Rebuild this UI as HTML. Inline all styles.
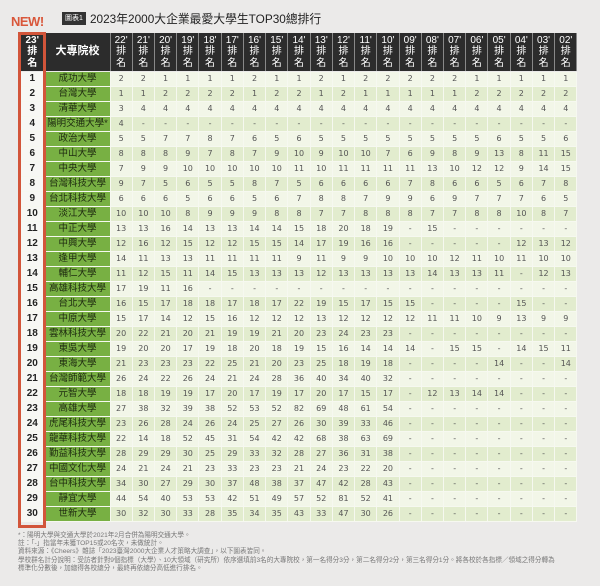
<!DOCTYPE html>
<html><head><meta charset="utf-8"><style>
body{margin:0;width:600px;height:586px;background:#ebeae9;font-family:"Liberation Sans","Noto Sans CJK TC",sans-serif;position:relative;overflow:hidden}
.new{position:absolute;left:11px;top:14px;font-size:13px;font-weight:bold;color:#d9573a;letter-spacing:-0.5px}
.icon{position:absolute;left:62px;top:12px;width:24px;height:13px;background:#333;color:#fff;font-size:7px;line-height:13px;text-align:center}
.title{position:absolute;left:90px;top:10px;font-size:11.8px;color:#222;white-space:nowrap}
table{position:absolute;left:20px;top:33px;width:557px;border-collapse:collapse;table-layout:fixed}
td{padding:0;height:14px;line-height:14px;text-align:center;font-size:8px;color:#555;border-right:1px solid #f6f8f0;border-bottom:1px solid #f6f8f0;font-family:"DejaVu Sans","Noto Sans CJK TC",sans-serif}
tr:nth-child(even) td{background:#f2f6e8}
tr:nth-child(odd) td{background:#e2ecce}
tr.h td{height:38px;background:#2c2c2c!important;color:#fff!important;font-size:10px;line-height:11.5px;border-right:1px solid #888;border-bottom:1px solid #ebeae9;font-family:"Liberation Sans","Noto Sans CJK TC",sans-serif}
tr.h td.s{font-size:11px;font-weight:bold}
td.r{background:#f7f7f4!important;color:#222;font-weight:bold;font-size:10px;font-family:"Liberation Sans",sans-serif}
td.s{background:#78b043!important;color:#1e2a10;font-size:9.5px;font-family:"Liberation Sans","Noto Sans CJK TC",sans-serif;white-space:nowrap;overflow:hidden}
.box{position:absolute;left:18px;top:32px;width:22px;height:490px;border:3px solid #d2553a}
.foot{position:absolute;left:18px;top:532px;font-size:6.6px;line-height:8.2px;color:#777;white-space:nowrap}
</style></head><body>
<div class="new">NEW!</div>
<div class="icon">圖表1</div>
<div class="title">2023年2000大企業最愛大學生TOP30總排行</div>
<table>
<colgroup><col style="width:25px"><col style="width:65px"><col span="21" style="width:22.24px"></colgroup>
<tr class="h"><td class="r">23'<br>排<br>名</td><td class="s">大專院校</td><td>22'<br>排<br>名</td><td>21'<br>排<br>名</td><td>20'<br>排<br>名</td><td>19'<br>排<br>名</td><td>18'<br>排<br>名</td><td>17'<br>排<br>名</td><td>16'<br>排<br>名</td><td>15'<br>排<br>名</td><td>14'<br>排<br>名</td><td>13'<br>排<br>名</td><td>12'<br>排<br>名</td><td>11'<br>排<br>名</td><td>10'<br>排<br>名</td><td>09'<br>排<br>名</td><td>08'<br>排<br>名</td><td>07'<br>排<br>名</td><td>06'<br>排<br>名</td><td>05'<br>排<br>名</td><td>04'<br>排<br>名</td><td>03'<br>排<br>名</td><td>02'<br>排<br>名</td></tr>
<tr><td class="r">1</td><td class="s">成功大學</td><td>2</td><td>2</td><td>1</td><td>1</td><td>1</td><td>1</td><td>2</td><td>1</td><td>1</td><td>2</td><td>1</td><td>2</td><td>2</td><td>2</td><td>2</td><td>2</td><td>1</td><td>1</td><td>1</td><td>1</td><td>1</td></tr>
<tr><td class="r">2</td><td class="s">台灣大學</td><td>1</td><td>1</td><td>2</td><td>2</td><td>2</td><td>2</td><td>1</td><td>2</td><td>2</td><td>1</td><td>2</td><td>1</td><td>1</td><td>1</td><td>1</td><td>1</td><td>2</td><td>2</td><td>2</td><td>2</td><td>2</td></tr>
<tr><td class="r">3</td><td class="s">清華大學</td><td>3</td><td>4</td><td>4</td><td>4</td><td>4</td><td>4</td><td>4</td><td>4</td><td>4</td><td>4</td><td>4</td><td>4</td><td>4</td><td>4</td><td>4</td><td>4</td><td>4</td><td>4</td><td>4</td><td>4</td><td>4</td></tr>
<tr><td class="r">4</td><td class="s">陽明交通大學*</td><td>4</td><td>-</td><td>-</td><td>-</td><td>-</td><td>-</td><td>-</td><td>-</td><td>-</td><td>-</td><td>-</td><td>-</td><td>-</td><td>-</td><td>-</td><td>-</td><td>-</td><td>-</td><td>-</td><td>-</td><td>-</td></tr>
<tr><td class="r">5</td><td class="s">政治大學</td><td>5</td><td>5</td><td>7</td><td>7</td><td>8</td><td>7</td><td>6</td><td>5</td><td>6</td><td>5</td><td>5</td><td>5</td><td>5</td><td>5</td><td>5</td><td>5</td><td>5</td><td>6</td><td>5</td><td>5</td><td>6</td></tr>
<tr><td class="r">6</td><td class="s">中山大學</td><td>8</td><td>8</td><td>8</td><td>9</td><td>7</td><td>8</td><td>7</td><td>9</td><td>10</td><td>9</td><td>10</td><td>10</td><td>7</td><td>6</td><td>9</td><td>8</td><td>9</td><td>13</td><td>8</td><td>11</td><td>15</td></tr>
<tr><td class="r">7</td><td class="s">中央大學</td><td>7</td><td>9</td><td>9</td><td>10</td><td>10</td><td>10</td><td>10</td><td>10</td><td>11</td><td>10</td><td>11</td><td>11</td><td>11</td><td>11</td><td>13</td><td>10</td><td>12</td><td>12</td><td>9</td><td>14</td><td>15</td></tr>
<tr><td class="r">8</td><td class="s">台灣科技大學</td><td>9</td><td>7</td><td>5</td><td>6</td><td>5</td><td>5</td><td>8</td><td>7</td><td>5</td><td>6</td><td>6</td><td>6</td><td>6</td><td>7</td><td>8</td><td>6</td><td>6</td><td>5</td><td>6</td><td>7</td><td>8</td></tr>
<tr><td class="r">9</td><td class="s">台北科技大學</td><td>6</td><td>6</td><td>6</td><td>5</td><td>6</td><td>6</td><td>5</td><td>6</td><td>7</td><td>8</td><td>8</td><td>7</td><td>9</td><td>9</td><td>6</td><td>9</td><td>7</td><td>7</td><td>7</td><td>6</td><td>5</td></tr>
<tr><td class="r">10</td><td class="s">淡江大學</td><td>10</td><td>10</td><td>10</td><td>8</td><td>9</td><td>9</td><td>9</td><td>8</td><td>8</td><td>7</td><td>7</td><td>8</td><td>8</td><td>8</td><td>7</td><td>7</td><td>8</td><td>8</td><td>10</td><td>8</td><td>7</td></tr>
<tr><td class="r">11</td><td class="s">中正大學</td><td>13</td><td>13</td><td>16</td><td>14</td><td>13</td><td>13</td><td>14</td><td>14</td><td>15</td><td>18</td><td>20</td><td>18</td><td>19</td><td>-</td><td>15</td><td>-</td><td>-</td><td>-</td><td>-</td><td>-</td><td>-</td></tr>
<tr><td class="r">12</td><td class="s">中興大學</td><td>12</td><td>16</td><td>12</td><td>15</td><td>12</td><td>12</td><td>15</td><td>15</td><td>14</td><td>17</td><td>19</td><td>16</td><td>16</td><td>-</td><td>-</td><td>-</td><td>-</td><td>-</td><td>12</td><td>13</td><td>12</td></tr>
<tr><td class="r">13</td><td class="s">逢甲大學</td><td>14</td><td>11</td><td>13</td><td>13</td><td>11</td><td>11</td><td>11</td><td>11</td><td>9</td><td>11</td><td>9</td><td>9</td><td>10</td><td>10</td><td>10</td><td>12</td><td>11</td><td>10</td><td>11</td><td>10</td><td>10</td></tr>
<tr><td class="r">14</td><td class="s">輔仁大學</td><td>11</td><td>12</td><td>15</td><td>11</td><td>14</td><td>15</td><td>13</td><td>13</td><td>13</td><td>12</td><td>13</td><td>13</td><td>13</td><td>13</td><td>14</td><td>13</td><td>13</td><td>11</td><td>-</td><td>12</td><td>13</td></tr>
<tr><td class="r">15</td><td class="s">高雄科技大學</td><td>17</td><td>19</td><td>11</td><td>16</td><td>-</td><td>-</td><td>-</td><td>-</td><td>-</td><td>-</td><td>-</td><td>-</td><td>-</td><td>-</td><td>-</td><td>-</td><td>-</td><td>-</td><td>-</td><td>-</td><td>-</td></tr>
<tr><td class="r">16</td><td class="s">台北大學</td><td>16</td><td>15</td><td>17</td><td>18</td><td>18</td><td>17</td><td>18</td><td>17</td><td>22</td><td>19</td><td>15</td><td>17</td><td>15</td><td>15</td><td>-</td><td>-</td><td>-</td><td>-</td><td>15</td><td>-</td><td>-</td></tr>
<tr><td class="r">17</td><td class="s">中原大學</td><td>15</td><td>17</td><td>14</td><td>12</td><td>15</td><td>16</td><td>12</td><td>12</td><td>12</td><td>13</td><td>12</td><td>12</td><td>12</td><td>12</td><td>11</td><td>11</td><td>10</td><td>9</td><td>13</td><td>9</td><td>9</td></tr>
<tr><td class="r">18</td><td class="s">雲林科技大學</td><td>20</td><td>22</td><td>21</td><td>20</td><td>21</td><td>19</td><td>19</td><td>21</td><td>20</td><td>23</td><td>24</td><td>23</td><td>23</td><td>-</td><td>-</td><td>-</td><td>-</td><td>-</td><td>-</td><td>-</td><td>-</td></tr>
<tr><td class="r">19</td><td class="s">東吳大學</td><td>19</td><td>20</td><td>20</td><td>17</td><td>19</td><td>18</td><td>20</td><td>18</td><td>19</td><td>15</td><td>16</td><td>14</td><td>14</td><td>14</td><td>-</td><td>15</td><td>15</td><td>-</td><td>14</td><td>15</td><td>11</td></tr>
<tr><td class="r">20</td><td class="s">東海大學</td><td>21</td><td>23</td><td>23</td><td>23</td><td>22</td><td>25</td><td>21</td><td>20</td><td>23</td><td>25</td><td>18</td><td>19</td><td>18</td><td>-</td><td>-</td><td>-</td><td>-</td><td>14</td><td>-</td><td>-</td><td>14</td></tr>
<tr><td class="r">21</td><td class="s">台灣師範大學</td><td>26</td><td>24</td><td>22</td><td>26</td><td>24</td><td>21</td><td>24</td><td>28</td><td>36</td><td>40</td><td>34</td><td>40</td><td>32</td><td>-</td><td>-</td><td>-</td><td>-</td><td>-</td><td>-</td><td>-</td><td>-</td></tr>
<tr><td class="r">22</td><td class="s">元智大學</td><td>18</td><td>18</td><td>19</td><td>19</td><td>17</td><td>20</td><td>17</td><td>19</td><td>17</td><td>20</td><td>17</td><td>15</td><td>17</td><td>-</td><td>12</td><td>13</td><td>14</td><td>14</td><td>-</td><td>-</td><td>-</td></tr>
<tr><td class="r">23</td><td class="s">高雄大學</td><td>27</td><td>38</td><td>32</td><td>39</td><td>38</td><td>52</td><td>53</td><td>52</td><td>82</td><td>69</td><td>48</td><td>61</td><td>54</td><td>-</td><td>-</td><td>-</td><td>-</td><td>-</td><td>-</td><td>-</td><td>-</td></tr>
<tr><td class="r">24</td><td class="s">虎尾科技大學</td><td>23</td><td>26</td><td>28</td><td>24</td><td>26</td><td>24</td><td>25</td><td>27</td><td>26</td><td>30</td><td>39</td><td>33</td><td>46</td><td>-</td><td>-</td><td>-</td><td>-</td><td>-</td><td>-</td><td>-</td><td>-</td></tr>
<tr><td class="r">25</td><td class="s">龍華科技大學</td><td>22</td><td>14</td><td>18</td><td>52</td><td>45</td><td>31</td><td>54</td><td>42</td><td>42</td><td>68</td><td>38</td><td>63</td><td>69</td><td>-</td><td>-</td><td>-</td><td>-</td><td>-</td><td>-</td><td>-</td><td>-</td></tr>
<tr><td class="r">26</td><td class="s">勤益科技大學</td><td>28</td><td>29</td><td>29</td><td>30</td><td>25</td><td>29</td><td>33</td><td>32</td><td>28</td><td>27</td><td>36</td><td>31</td><td>38</td><td>-</td><td>-</td><td>-</td><td>-</td><td>-</td><td>-</td><td>-</td><td>-</td></tr>
<tr><td class="r">27</td><td class="s">中國文化大學</td><td>24</td><td>21</td><td>24</td><td>21</td><td>23</td><td>33</td><td>23</td><td>23</td><td>21</td><td>24</td><td>23</td><td>22</td><td>20</td><td>-</td><td>-</td><td>-</td><td>-</td><td>-</td><td>-</td><td>-</td><td>-</td></tr>
<tr><td class="r">28</td><td class="s">台中科技大學</td><td>34</td><td>30</td><td>27</td><td>29</td><td>30</td><td>37</td><td>48</td><td>38</td><td>37</td><td>47</td><td>42</td><td>28</td><td>43</td><td>-</td><td>-</td><td>-</td><td>-</td><td>-</td><td>-</td><td>-</td><td>-</td></tr>
<tr><td class="r">29</td><td class="s">靜宜大學</td><td>44</td><td>54</td><td>40</td><td>53</td><td>53</td><td>42</td><td>51</td><td>49</td><td>57</td><td>52</td><td>81</td><td>52</td><td>41</td><td>-</td><td>-</td><td>-</td><td>-</td><td>-</td><td>-</td><td>-</td><td>-</td></tr>
<tr><td class="r">30</td><td class="s">世新大學</td><td>30</td><td>32</td><td>30</td><td>33</td><td>28</td><td>35</td><td>34</td><td>35</td><td>43</td><td>33</td><td>47</td><td>30</td><td>26</td><td>-</td><td>-</td><td>-</td><td>-</td><td>-</td><td>-</td><td>-</td><td>-</td></tr>
</table>
<div class="box"></div>
<div class="foot">*：陽明大學與交通大學於2021年2月合併為陽明交通大學。<br>註：「-」指當年未獲TOP15或20名次，未做統計。<br>資料來源：《Cheers》雜誌「2023臺灣2000大企業人才策略大調查」，以下圖表皆同。<br>學校群名計分說明：受訪者針對9個指標（大學）、10大領域（研究所）依序選填前3名的大專院校，第一名得分3分，第二名得分2分，第三名得分1分。將各校於各指標／領域之得分轉為<br>標準化分數後，加總得各校總分，最終再依總分高低進行排名。</div>
</body></html>
